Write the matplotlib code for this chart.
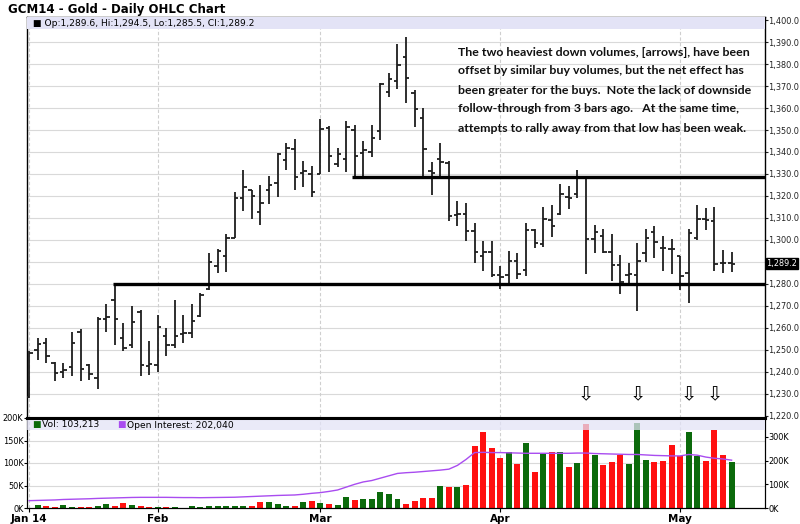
import matplotlib
matplotlib.use('Agg')
import matplotlib.pyplot as plt
import matplotlib.transforms as mtransforms
from matplotlib.patches import Rectangle
import numpy as np

# daily OHLC bars, GCM14 (Jan 14 .. May 9)
opens = [1228.5, 1250, 1253, 1244, 1240, 1242, 1258, 1243, 1237, 1264,
         1272.5, 1255.5, 1252, 1267, 1242.5, 1243, 1256.5, 1252, 1257, 1257.5,
         1265.5, 1277.5, 1288, 1292.5, 1301, 1319, 1322.5, 1312.5, 1322.5, 1326,
         1336.5, 1341.5, 1330.5, 1330, 1330, 1351, 1334.5, 1337, 1350, 1339.5,
         1340, 1349.5, 1367.5, 1372.5, 1383, 1367, 1355.5, 1331.5, 1337, 1335,
         1311.5, 1312, 1304, 1292.5, 1294.5, 1284, 1284, 1290.5, 1286.5, 1304.5,
         1298, 1309, 1312, 1319.5, 1321, 1328, 1300.5, 1302, 1294.5, 1288.5,
         1284, 1284, 1294, 1303.5, 1296.5, 1296, 1292.5, 1285, 1301, 1309.5,
         1308.5, 1289.5, 1289.6]
highs = [1249.5, 1255.5, 1255.5, 1244.5, 1244, 1258, 1259.5, 1243.5, 1265, 1271,
         1280, 1262, 1270, 1268, 1254, 1266, 1260, 1272.5, 1266, 1271,
         1276, 1294, 1296, 1302.5, 1322, 1332, 1322.5, 1325, 1329, 1339.5,
         1344, 1346, 1336, 1333.5, 1355, 1352, 1342, 1354, 1352.5, 1345,
         1352.5, 1371.5, 1376, 1389, 1392.5, 1368, 1360, 1335.5, 1344, 1336,
         1317.5, 1317, 1307.5, 1299.5, 1299.5, 1288, 1295, 1294, 1307.5, 1305,
         1315, 1316, 1325.5, 1324.5, 1332, 1328.5, 1307, 1305, 1302.5, 1293,
         1289.5, 1298.5, 1305, 1306.5, 1302, 1300.5, 1292.5, 1305, 1316, 1314.5,
         1315, 1295.5, 1294.5]
lows = [1228, 1245.5, 1244, 1236, 1237, 1238, 1236, 1236.5, 1232, 1258,
        1252, 1249.5, 1251, 1238, 1238.5, 1240, 1247, 1251, 1253, 1255.5,
        1265, 1277, 1285, 1285.5, 1301, 1313, 1309.5, 1307, 1316.5, 1319.5,
        1332, 1322.5, 1324, 1319.5, 1330, 1331, 1333, 1331, 1328, 1328,
        1337.5, 1345.5, 1365, 1368.5, 1362.5, 1351.5, 1328.5, 1320.5, 1329, 1308.5,
        1306.5, 1299.5, 1289.5, 1286, 1283, 1277.5, 1279, 1282, 1283.5, 1296.5,
        1297, 1301.5, 1311.5, 1314, 1319, 1284.5, 1294, 1294, 1281.5, 1275.5,
        1280.5, 1267.5, 1290, 1292, 1286, 1284.5, 1277, 1271.5, 1300, 1304.5,
        1286, 1285, 1285.5]
closes = [1248.5, 1252.5, 1247, 1239.5, 1241, 1253, 1241.5, 1239, 1264, 1265,
          1264, 1251, 1262.5, 1243, 1243.5, 1260.5, 1252, 1256.5, 1257.5, 1263,
          1275, 1290, 1295, 1301, 1319, 1324, 1320, 1317, 1325, 1339,
          1342, 1328.5, 1331.5, 1322, 1350.5, 1338, 1339, 1351.5, 1338, 1341,
          1346.5, 1371, 1373, 1379.5, 1373.5, 1359.5, 1341.5, 1330.5, 1335.5, 1311,
          1312, 1304, 1294.5, 1294.5, 1284, 1283, 1290.5, 1284.5, 1304.5, 1298.5,
          1309.5, 1306.5, 1321, 1319, 1328, 1300.5, 1303.5, 1294.5, 1288.5, 1281,
          1284.5, 1290.5, 1301, 1299, 1296.5, 1296, 1283.5, 1303, 1309.5, 1309,
          1289, 1289.5, 1289.2]

# volume in thousands, g = up (green), r = down (red)
volumes = [0, 5.9, 4.4, 3, 5.9, 2.2, 2.2, 2.2, 4.4, 8.1,
           4.4, 10.4, 6.7, 4.4, 3, 2.2, 3, 2.2, 0, 4.4,
           3, 4.4, 4.4, 4.4, 4.4, 4.4, 4.4, 12.6, 14.1, 8.9,
           4.4, 4.4, 14.1, 14.8, 10.4, 8.9, 6.7, 23.7, 18.5, 20,
           20, 36.3, 31.9, 20, 8.9, 14.8, 22.2, 22.2, 49.6, 45.9,
           47.4, 51.9, 137, 170, 133, 111, 124, 97.8, 144, 80,
           120, 124, 124, 91.9, 100, 187, 117, 96.3, 101.5, 117.8,
           97.8, 189, 107, 101.5, 103.7, 139, 114.8, 170, 114.8, 103.7,
           172.6, 117, 103.2]
vol_dir = ("ggrrggrrgg" "rrgrrgrggg" "ggggggrrgg" "grgrgrggrg" "ggggrrrrgr"
           "grrrrrgrgr" "grgrgrgrrr" "gggrrrrggr" "rrg")

# open interest in thousands
open_interest = [31, 32, 33, 34, 36, 37, 38, 39, 40.5, 41.5,
                 42.5, 43.5, 44.5, 45, 45, 45, 45, 44.5, 44, 44,
                 43.5, 44, 44.5, 45, 45.5, 47, 48.5, 50, 51.5, 53,
                 54, 55, 58, 62, 65, 70, 76, 88, 100, 110,
                 116, 126, 136, 146, 149, 151, 154, 157, 160, 164,
                 180, 205, 234, 235, 234, 234, 233, 232, 231, 231,
                 231, 231, 231, 231, 232, 232, 230, 229, 228, 227,
                 226, 226, 224, 222, 221, 220, 220, 226, 223, 215,
                 210, 207, 202]

month_pos = [0, 15, 34, 55, 76]
month_labels = ['Jan 14', 'Feb', 'Mar', 'Apr', 'May']
arrow_bars = [65, 71, 77, 80]

note_lines = [
    "The two heaviest down volumes, [arrows], have been",
    "offset by similar buy volumes, but the net effect has",
    "been greater for the buys.  Note the lack of downside",
    "follow-through from 3 bars ago.   At the same time,",
    "attempts to rally away from that low has been weak.",
]

x = np.arange(len(opens))
W, H = 800, 524
bar_col = '#1e1e1e'
grid_col = '#d9d9d9'
band_col = '#e3e3f6'
tick_fs = 5.9

fig = plt.figure(figsize=(W / 100, H / 100), dpi=100)
ax = fig.add_axes([27 / W, 1 - 418 / H, 738 / W, 401 / H])
axv = fig.add_axes([27 / W, 1 - 508 / H, 738 / W, 90 / H], sharex=ax)

xlim = (-0.25, 85.9)

# ---- price panel
ax.set_xlim(*xlim)
ax.set_ylim(1219.0, 1401.4)
for lvl in range(1230, 1400, 10):
    ax.axhline(lvl, color=grid_col, lw=0.8, zorder=0)
for m in month_pos:
    ax.axvline(m, color='#cfcfcf', lw=0.8, ls=(0, (3, 2)), zorder=0)

ax.vlines(x, lows, highs, color=bar_col, lw=1.3, zorder=3)
ax.hlines(opens, x - 0.4, x, color=bar_col, lw=1.3, zorder=3)
ax.hlines(closes, x, x + 0.4, color=bar_col, lw=1.3, zorder=3)

ax.hlines(1328.5, 37.7, xlim[1], color='black', lw=2.4, zorder=4)
ax.hlines(1280, 9.8, xlim[1], color='black', lw=2.4, zorder=4)

for b in arrow_bars:
    ax.text(b, 1229.5, '\u21e9', ha='center', va='center', fontsize=14, color='black')

ty = 52
for line in note_lines:
    fig.text(458 / W, 1 - ty / H, line, fontsize=8.9, fontweight='bold',
             family='Lato', va='center', color='#111111')
    ty += 19

ax.add_patch(Rectangle((0, 1 - 12 / 401), 1, 12 / 401, transform=ax.transAxes,
                       color=band_col, lw=0, zorder=5))
ax.text(6 / 738, 1 - 6 / 401, '\u25a0 Op:1,289.6, Hi:1,294.5, Lo:1,285.5, Cl:1,289.2',
        transform=ax.transAxes, fontsize=6.6, va='center', zorder=6)

ax.yaxis.tick_right()
ticks = [v for v in range(1220, 1401, 10) if v != 1290]
ax.set_yticks(ticks)
ax.set_yticklabels([f"{v:,.1f}" for v in ticks], fontsize=tick_fs)
ax.tick_params(axis='y', length=2, pad=0.5, colors='#222222')
ax.tick_params(axis='x', length=0, labelbottom=False)
for s in ax.spines.values():
    s.set_color('black')
    s.set_linewidth(1)

trans = mtransforms.blended_transform_factory(ax.transAxes, ax.transData)
ax.text(1.002, closes[-1], '1,289.2', transform=trans, fontsize=tick_fs, color='white',
        va='center', ha='left', zorder=7,
        bbox=dict(boxstyle='square,pad=0.1', fc='black', ec='black'))

fig.text(8 / W, 1 - 9 / H, 'GCM14 - Gold - Daily OHLC Chart', fontsize=8.5,
         fontweight='bold', va='center')

# ---- volume panel
vol_colors = ['#0b6a0b' if d == 'g' else '#ff1010' for d in vol_dir]
axv.set_ylim(0, 200000)
for lvl in [50000, 100000, 150000]:
    axv.axhline(lvl, color=grid_col, lw=0.8, zorder=0)
for m in month_pos:
    axv.axvline(m, color='#cfcfcf', lw=0.8, ls=(0, (3, 2)), zorder=0)
axv.bar(x, np.array(volumes) * 1000, width=0.7, color=vol_colors, zorder=2)
axv.set_yticks([0, 50000, 100000, 150000, 200000])
axv.set_yticklabels(['0K', '50K', '100K', '150K', '200K'], fontsize=tick_fs)
axv.tick_params(axis='y', length=2, pad=0.5)
axv.set_xticks(month_pos)
axv.set_xticklabels(month_labels, fontsize=7.5, fontweight='bold')
axv.tick_params(axis='x', length=3, pad=1)
axv.spines['top'].set_linewidth(2.2)

axo = axv.twinx()
axo.set_ylim(0, 380000)
axo.plot(x, np.array(open_interest) * 1000, color='#a94cf0', lw=1, zorder=3)
axo.set_yticks([0, 100000, 200000, 300000])
axo.set_yticklabels(['0K', '100K', '200K', '300K'], fontsize=tick_fs)
axo.tick_params(axis='y', length=2, pad=0.5)
axo.spines['top'].set_linewidth(2.2)

axo.add_patch(Rectangle((0, 1 - 12 / 90), 1, 10 / 90, transform=axo.transAxes,
                        color=band_col, alpha=0.75, lw=0, zorder=5))
legend_y = 1 - 7 / 90
axo.text(5 / 738, legend_y, '\u25a0', transform=axo.transAxes, fontsize=6.5,
         color='#0b6a0b', va='center', zorder=6)
axo.text(15 / 738, legend_y, 'Vol: 103,213', transform=axo.transAxes, fontsize=6.6,
         va='center', zorder=6)
axo.text(90 / 738, legend_y, '\u25a0', transform=axo.transAxes, fontsize=6.5,
         color='#a94cf0', va='center', zorder=6)
axo.text(100 / 738, legend_y, 'Open Interest: 202,040', transform=axo.transAxes,
         fontsize=6.6, va='center', zorder=6)

fig.savefig('out.png', dpi=100, facecolor='white')
